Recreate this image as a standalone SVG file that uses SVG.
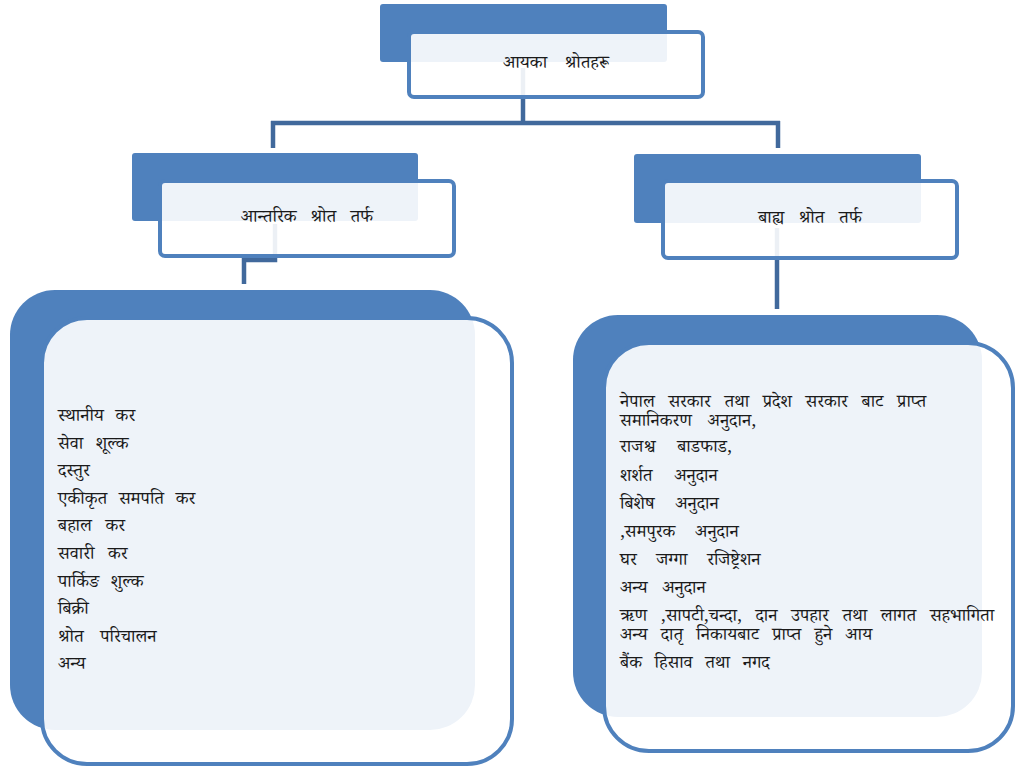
<svg xmlns="http://www.w3.org/2000/svg" width="1015" height="769" viewBox="0 0 1015 769">
<style>
.back{fill:#4F81BD}
.front{fill:#FFFFFF;fill-opacity:0.9;stroke:#4F81BD;stroke-width:4}
.conn{fill:none;stroke:#41699C;stroke-width:4.5}
text{font-family:"Noto Serif Devanagari","Noto Sans Devanagari","Lohit Devanagari","Noto Sans",sans-serif;font-size:18px;fill:#1a1a1a}
.title{text-anchor:middle}
</style>
<rect width="1015" height="769" fill="#FFFFFF"/>
<g id="connectors">
<path class="conn" d="M523,68 V123"/>
<path class="conn" d="M271,123 H780"/>
<path class="conn" d="M273,121 V148"/>
<path class="conn" d="M778,121 V148"/>
<path class="conn" d="M275,224 V260 H244 V284"/>
<path class="conn" d="M777,228 V309"/>
</g>
<g id="node-root">
<rect class="back" x="380" y="4" width="287" height="58" rx="3"/>
<rect class="front" x="409" y="32" width="294" height="65" rx="5"/>
<text class="title" x="556" y="68" word-spacing="13">आयका श्रोतहरू</text>
</g>
<g id="node-internal">
<rect class="back" x="132" y="153" width="286" height="68" rx="3"/>
<rect class="front" x="160" y="181" width="294" height="75" rx="5"/>
<text class="title" x="307" y="222" word-spacing="9.5">आन्तरिक श्रोत तर्फ</text>
</g>
<g id="node-external">
<rect class="back" x="634" y="154" width="287" height="69" rx="3"/>
<rect class="front" x="663" y="181" width="294" height="77" rx="5"/>
<text class="title" x="810" y="223" word-spacing="10">बाह्य श्रोत तर्फ</text>
</g>
<g id="node-internal-list">
<rect class="back" x="10" y="290" width="465" height="440" rx="45"/>
<rect class="front" x="42" y="318" width="470" height="446" rx="45"/>
<text x="58" y="421" word-spacing="7">स्थानीय कर</text>
<text x="58" y="448.6" word-spacing="8">सेवा शूल्क</text>
<text x="58" y="476.2">दस्तुर</text>
<text x="58" y="503.8" word-spacing="7">एकीकृत समपति कर</text>
<text x="58" y="531.4" word-spacing="9">बहाल कर</text>
<text x="58" y="559" word-spacing="9">सवारी कर</text>
<text x="58" y="586.6" word-spacing="7">पार्किङ शुल्क</text>
<text x="58" y="614.2">बिक्री</text>
<text x="58" y="641.8" word-spacing="12">श्रोत परिचालन</text>
<text x="58" y="669.4">अन्य</text>
</g>
<g id="node-external-list">
<rect class="back" x="573" y="315" width="409" height="402" rx="45"/>
<rect class="front" x="604" y="343" width="409" height="408" rx="45"/>
<text x="620" y="407" word-spacing="9">नेपाल सरकार तथा प्रदेश सरकार बाट प्राप्त</text>
<text x="620" y="426" word-spacing="11">समानिकरण अनुदान,</text>
<text x="620" y="452" word-spacing="17">राजश्व बाडफाड,</text>
<text x="620" y="481" word-spacing="17">शर्शत अनुदान</text>
<text x="620" y="509" word-spacing="16">बिशेष अनुदान</text>
<text x="620" y="537" word-spacing="15">,समपुरक अनुदान</text>
<text x="620" y="565" word-spacing="15">घर जग्गा रजिष्ट्रेशन</text>
<text x="620" y="593" word-spacing="10">अन्य अनुदान</text>
<text x="620" y="621" word-spacing="9">ऋण ,सापटी,चन्दा, दान उपहार तथा लागत सहभागिता</text>
<text x="620" y="640" word-spacing="8.5">अन्य दातृ निकायबाट प्राप्त हुने आय</text>
<text x="620" y="668" word-spacing="8">बैंक हिसाव तथा नगद</text>
</g>
</svg>
